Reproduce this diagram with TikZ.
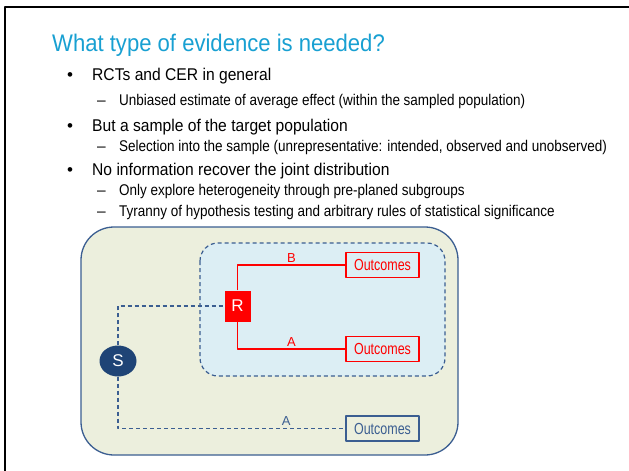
\documentclass[tikz,border=0pt]{standalone}
\usepackage{fontspec}
\setmainfont{Liberation Sans}
\usetikzlibrary{positioning,shapes.geometric}
\definecolor{titlecyan}{RGB}{24,160,210}
\definecolor{navy}{RGB}{31,68,118}
\definecolor{frameblue}{RGB}{59,94,145}
\definecolor{beige}{RGB}{236,239,221}
\definecolor{paleblue}{RGB}{220,238,244}
\definecolor{trialred}{RGB}{255,0,0}
\newcommand{\narrow}[2][.8]{\scalebox{#1}[1]{#2}}
\begin{document}
\begin{tikzpicture}[x=1pt,y=-1pt,line join=round,
	every node/.style={inner sep=0pt},
	bul/.style={anchor=base west,font=\fontsize{17}{19}\selectfont},
	sub/.style={anchor=base west,font=\fontsize{15.5}{17}\selectfont},
	outc/.style={draw,line width=1.2pt,minimum width=73pt,minimum height=25pt,font=\fontsize{16}{18}\selectfont},
	dsh/.style={draw=frameblue,line width=1.2pt,dash pattern=on 4pt off 3pt},
	arm/.style={draw=trialred,line width=1.5pt},
	lbl/.style={font=\fontsize{13}{15}\selectfont,above=2pt}]
	\useasboundingbox (0,0) rectangle (629,471);
	\fill[white] (0,0) rectangle (629,471);
	\draw[line width=2.5pt] (5,471) |- (629,7);
	% title and bullets
	\node[anchor=base west,text=titlecyan,font=\fontsize{24}{26}\selectfont] (title) at (52,51) {\narrow[.92]{What type of evidence is needed?}};
	\foreach \y/\t [count=\i] in {80/{RCTs and CER in general},131/{But a sample of the target population},175/{No information recover the joint distribution}}
		{\node[bul] at (67,\y) {\textbullet};
		\node[bul] (b\i) at (92,\y) {\narrow[.92]{\t}};}
	\foreach \y/\t [count=\i] in {105/{Unbiased estimate of average effect (within the sampled population)},151/{Selection into the sample (unrepresentative: intended, observed and unobserved)},195/{Only explore heterogeneity through pre-planed subgroups},216/{Tyranny of hypothesis testing and arbitrary rules of statistical significance}}
		{\node[sub] at (97,\y) {–};
		\node[sub] (s\i) at (119,\y) {\narrow[.87]{\t}};}
	% population and trial
	\draw[frameblue,fill=beige,line width=1.3pt,rounded corners=33pt] (81,227) rectangle (458,455);
	\draw[dsh,fill=paleblue,rounded corners=18pt] (200,243) rectangle (445,376);
	\node[fill=trialred,minimum width=26pt,minimum height=31pt,text=white,font=\fontsize{17}{19}\selectfont] (R) at (237.5,306) {R};
	\node[ellipse,fill=navy,minimum width=37pt,minimum height=31pt,text=white,font=\fontsize{17}{19}\selectfont] (S) at (118,361) {S};
	\node[outc,draw=trialred,text=trialred] (oB) at (382.5,265) {\narrow[.78]{Outcomes}};
	\node[outc,draw=trialred,text=trialred] (oA) at (382.5,349) {\narrow[.78]{Outcomes}};
	\node[outc,draw=frameblue,text=frameblue] (oS) at (382.5,428.5) {\narrow[.78]{Outcomes}};
	\draw[arm] (R.north) |- (oB.west) node[lbl,pos=.75,text=trialred]{B};
	\draw[arm] (R.south) |- (oA.west) node[lbl,pos=.75,text=trialred]{A};
	\draw[dsh] (S.north) |- (R.west);
	\draw[dsh] (S.south) |- (oS.west) node[lbl,pos=.87,text=frameblue]{A};
\end{tikzpicture}
\end{document}
